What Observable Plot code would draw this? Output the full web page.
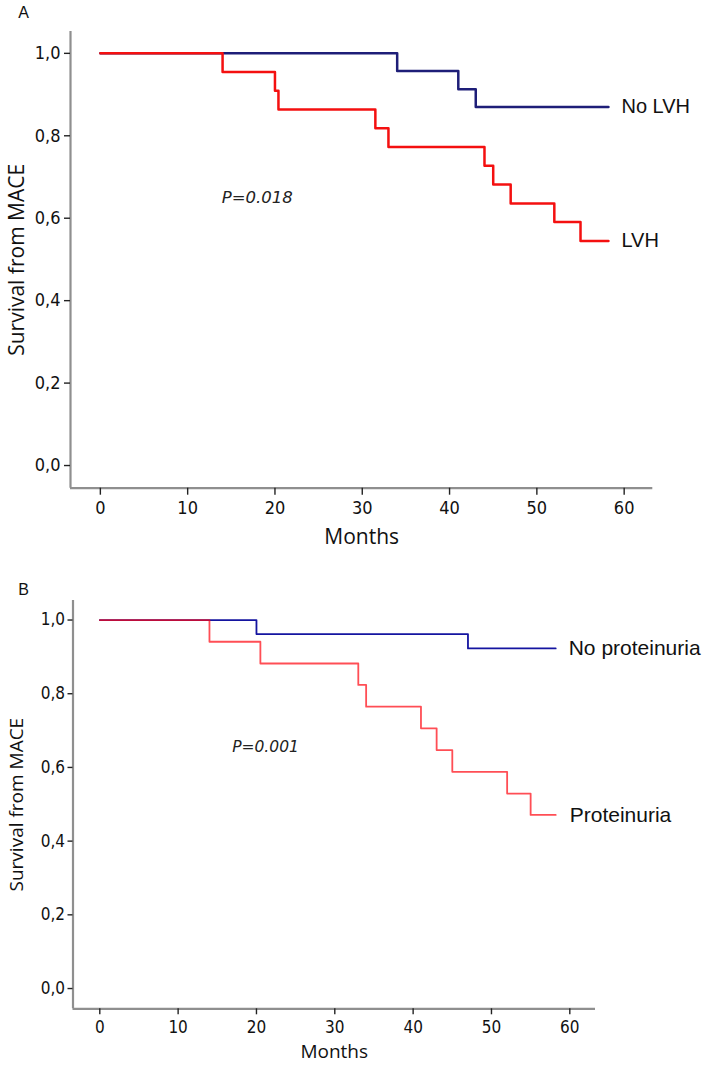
<!DOCTYPE html>
<html><head><meta charset="utf-8">
<script src="https://cdn.jsdelivr.net/npm/d3@7"></script>
<script src="https://cdn.jsdelivr.net/npm/@observablehq/plot@0.6"></script>
<style>
html,body{margin:0;padding:0;background:#fff;overflow:hidden;}
#wrap{position:relative;width:709px;height:1065px;}
#a{position:absolute;left:0;top:0;}
#b{position:absolute;left:0;top:560px;}
</style></head><body><div id="wrap"><div id="a"></div><div id="b"></div></div>
<script>
// ---- data ----
const monthTicks = [0, 10, 20, 30, 40, 50, 60];
const survivalTicks = [0, 0.2, 0.4, 0.6, 0.8, 1.0];
const xDomain = [-3.42, 63.28];
const yDomain = [-0.055, 1.053];

// Panel A
const noLvhMonths = [0, 34, 41, 43, 58.2];
const noLvhSurvival = [1, 0.957, 0.913, 0.870, 0.870];
const lvhMonths = [0, 14, 20, 20.4, 31.5, 33, 44, 45, 47, 52, 55, 58.2];
const lvhSurvival = [1, 0.955, 0.909, 0.864, 0.818, 0.773, 0.727, 0.682, 0.636, 0.591, 0.545, 0.545];
const pValueA = "P=0.018";
const pPosA = [13.9, 0.65];

// Panel B
const noProtMonths = [0, 20, 47, 58.2];
const noProtSurvival = [1, 0.962, 0.923, 0.923];
const protMonths = [0, 14, 20.5, 33, 34, 41, 43, 45, 52, 55, 58.2];
const protSurvival = [1, 0.941, 0.882, 0.824, 0.765, 0.706, 0.647, 0.588, 0.529, 0.471, 0.471];
const pValueB = "P=0.001";
const pPosB = [16.9, 0.655];

const toRows = (months, surv, name) => months.map((m, i) => ({month: m, surv: surv[i], series: name}));
const fmt = d => d.toFixed(1).replace(".", ",");
const tickFont = "'DejaVu Sans Condensed', 'Open Sans', sans-serif";
const titleFont = "'Open Sans', sans-serif";
const labelFont = "'Liberation Sans', Arial, sans-serif";

function panel(o) {
  const top = o.top, bottom = o.bottom;
  const marks = [
    Plot.ruleX([xDomain[0]], {stroke: "#8f8f8f", strokeWidth: 2.2}),
    Plot.ruleY([yDomain[0]], {stroke: "#8f8f8f", strokeWidth: 2.2}),
    Plot.axisY(survivalTicks, {tickSize: o.ytick, tickFormat: () => "", stroke: "#222", strokeWidth: 1.4, label: null}),
    Plot.axisX(monthTicks, {tickSize: o.xtick, tickFormat: () => "", stroke: "#222", strokeWidth: 1.4, label: null}),
    Plot.text(survivalTicks, {y: d => d, text: fmt, frameAnchor: "left", textAnchor: "end", lineAnchor: "middle", dx: -(o.ytick + o.ypad), fontSize: o.tickSize, fontFamily: tickFont, fill: "#111"}),
    Plot.text(monthTicks, {x: d => d, text: d => String(d), frameAnchor: "bottom", textAnchor: "middle", lineAnchor: "top", dy: o.xtick + o.xpad, fontSize: o.tickSize, fontFamily: tickFont, fill: "#111"}),
    Plot.line(bottom.rows, {x: "month", y: "surv", curve: "step-after", stroke: bottom.color, strokeWidth: o.lw, strokeOpacity: bottom.opacity ?? 1}),
    Plot.line(top.rows, {x: "month", y: "surv", curve: "step-after", stroke: top.color, strokeWidth: o.lw, strokeOpacity: top.opacity ?? 1}),
    Plot.text([bottom.rows[bottom.rows.length - 1]], {x: "month", y: "surv", text: () => bottom.name, textAnchor: "start", dx: 13, fontSize: o.labelSize, fontFamily: labelFont, fill: "#111"}),
    Plot.text([top.rows[top.rows.length - 1]], {x: "month", y: "surv", text: () => top.name, textAnchor: "start", dx: o.dx2, fontSize: o.labelSize, fontFamily: labelFont, fill: "#111"}),
    Plot.text([o.p], {x: () => o.pPos[0], y: () => o.pPos[1], text: d => d, textAnchor: "start", fontSize: o.pSize, fontStyle: "italic", fontFamily: "'DejaVu Sans', sans-serif", fill: "#222"}),
    Plot.text(["Survival from MACE"], {frameAnchor: "left", textAnchor: "middle", lineAnchor: "middle", rotate: -90, dx: o.ylabDx, fontSize: o.titleSize, fontFamily: titleFont, fill: "#111"}),
    Plot.text(["Months"], {frameAnchor: "bottom", textAnchor: "middle", lineAnchor: "middle", dy: o.xlabDy, fontSize: o.titleSize, fontFamily: titleFont, fill: "#111"}),
    Plot.text([o.letter], {frameAnchor: "top-left", textAnchor: "middle", lineAnchor: "middle", dx: o.letterDx, dy: o.letterDy, fontSize: 16, fontFamily: labelFont, fill: "#111"})
  ];
  return Plot.plot({
    width: 709, height: o.height,
    marginTop: o.mt, marginLeft: o.ml, marginRight: o.mr, marginBottom: o.mb,
    x: {domain: xDomain, axis: null},
    y: {domain: yDomain, axis: null},
    style: {background: "white", overflow: "visible"},
    marks
  });
}

document.getElementById("a").append(panel({
  height: 560, mt: 31, ml: 70, mr: 56.7, mb: 72.3,
  ytick: 6, ypad: 4, xtick: 7, xpad: 6, tickSize: 18, titleSize: 21, labelSize: 20, pSize: 16.5,
  lw: 2.5, dx2: 13,
  bottom: {rows: toRows(noLvhMonths, noLvhSurvival, "No LVH"), color: "#1e1e78", name: "No LVH"},
  top: {rows: toRows(lvhMonths, lvhSurvival, "LVH"), color: "#f41010", name: "LVH"},
  p: pValueA, pPos: pPosA,
  ylabDx: -53, xlabDy: 49, letter: "A", letterDx: -47, letterDy: -18.5
}));

document.getElementById("b").append(panel({
  height: 505, mt: 40, ml: 72.5, mr: 114, mb: 56.7,
  ytick: 5, ypad: 3, xtick: 6, xpad: 6, tickSize: 17, titleSize: 19, labelSize: 21, pSize: 15.5,
  lw: 1.8, dx2: 14,
  bottom: {rows: toRows(noProtMonths, noProtSurvival, "No proteinuria"), color: "#1414a0", name: "No proteinuria"},
  top: {rows: toRows(protMonths, protSurvival, "Proteinuria"), color: "#ff0a14", opacity: 0.72, name: "Proteinuria"},
  p: pValueB, pPos: pPosB,
  ylabDx: -56, xlabDy: 43.5, letter: "B", letterDx: -49.5, letterDy: -11
}));
</script>
</body></html>
